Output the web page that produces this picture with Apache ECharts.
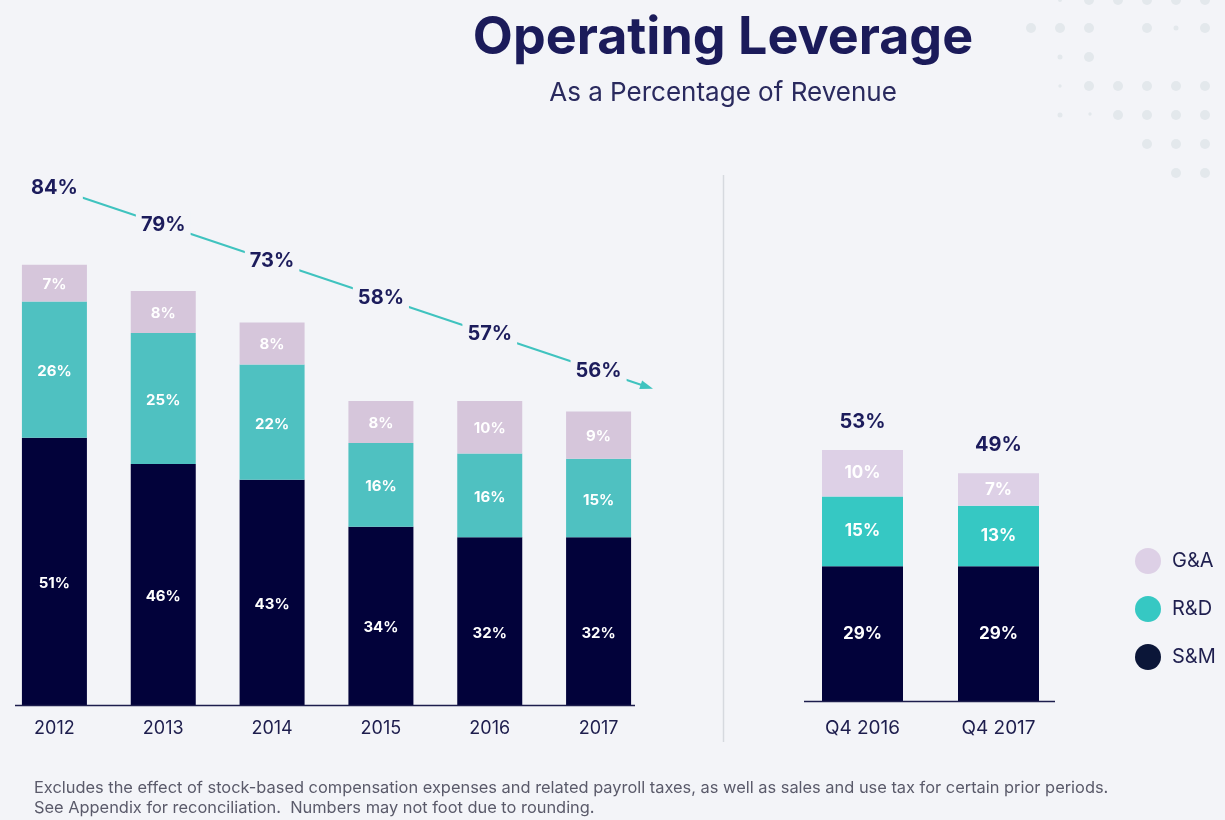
<!DOCTYPE html>
<html>
<head>
<meta charset="utf-8">
<script src="https://cdn.jsdelivr.net/npm/echarts@6/dist/echarts.min.js"></script>
<style>
html,body{margin:0;padding:0;background:#f3f4f8;}
#chart{width:1225px;height:820px;}
</style>
</head>
<body>
<div id="chart"></div>
<script>
// ---- data ----
const years = ['2012', '2013', '2014', '2015', '2016', '2017'];
const smAnnual = [51, 46, 43, 34, 32, 32];
const rdAnnual = [26, 25, 22, 16, 16, 15];
const gaAnnual = [7, 8, 8, 8, 10, 9];
const totalAnnual = [84, 79, 73, 58, 57, 56];

const quarters = ['Q4 2016', 'Q4 2017'];
const smQuarter = [29, 29];
const rdQuarter = [15, 13];
const gaQuarter = [10, 7];
const totalQuarter = [53, 49];

// ---- styles ----
const NAVY = '#1c1c5c';
const BG = '#f3f4f8';
const FONT = 'Inter';

const chart = echarts.init(document.getElementById('chart'));

function segLabel(size, dy) {
  return {
    show: true, position: 'inside', color: '#ffffff',
    fontWeight: 'bold', fontSize: size, fontFamily: FONT,
    offset: [0, dy || 0],
    formatter: p => p.value + '%'
  };
}

// decorative dots (top-right)
const dots = [
  [1060,0,2],[1089,0,5],[1118,0,5],[1147,0,5],[1176,0,5],[1205,0,5],
  [1031,28,5],[1060,28,5],[1089,28,5],[1147,28,5],[1176,28,2.5],[1205,28,5],
  [1060,57,2.5],[1089,57,5],
  [1060,86,1.7],[1089,86,5],[1118,86,5],[1147,86,5],[1176,86,5],[1205,86,5],
  [1060,115,2.5],[1090,114,1.7],[1118,115,5],[1147,115,5],[1176,115,5],[1205,115,5],
  [1147,144,5],[1176,144,5],[1205,144,5],
  [1176,173,5],[1205,173,5]
];

// trend arrow geometry (layout)
const ARROW_Y0 = 188, ARROW_X0 = 53.5, ARROW_SLOPE = 0.335, ARROW_TIP_X = 653;
function arrowY(x) { return ARROW_Y0 + (x - ARROW_X0) * ARROW_SLOPE; }

const option = {
  backgroundColor: BG,
  textStyle: { fontFamily: FONT },
  animation: false,
  title: [
    { text: 'Operating Leverage', left: 718, top: 7, textAlign: 'center',
      textStyle: { fontSize: 52, fontWeight: 'bold', color: '#1b1b5a', fontFamily: FONT } },
    { text: 'As a Percentage of Revenue', left: 718, top: 75, textAlign: 'center',
      textStyle: { fontSize: 26, fontWeight: 'normal', color: '#2a2a5e', fontFamily: FONT } },
    { text: 'Excludes the effect of stock-based compensation expenses and related payroll taxes, as well as sales and use tax for certain prior periods.\nSee Appendix for reconciliation.  Numbers may not foot due to rounding.',
      left: 29, top: 773,
      textStyle: { fontSize: 16.4, fontWeight: 'normal', color: '#5a5a6a', lineHeight: 20, fontFamily: FONT } }
  ],
  legend: {
    orient: 'vertical', left: 1130, top: 543,
    icon: 'circle', itemWidth: 26, itemHeight: 26, itemGap: 22,
    selectedMode: false,
    textStyle: { fontSize: 20, color: '#1f1f4f', fontFamily: FONT, padding: [0, 0, 0, 6] },
    data: [
      { name: 'G&A', itemStyle: { color: '#ddd0e6' } },
      { name: 'R&D', itemStyle: { color: '#36c8c3' } },
      { name: 'S&M', itemStyle: { color: '#0b1638' } }
    ]
  },
  grid: [
    { left: -1, width: 654, top: 181, height: 524 },
    { left: 794.5, width: 272, top: 236, height: 465 }
  ],
  xAxis: [
    { type: 'category', gridIndex: 0, data: years,
      axisLine: { show: false }, axisTick: { show: false },
      axisLabel: { fontSize: 18, color: '#1d1d4d', margin: 15, fontFamily: FONT } },
    { type: 'category', gridIndex: 1, data: quarters,
      axisLine: { show: false }, axisTick: { show: false },
      axisLabel: { fontSize: 19, color: '#1d1d4d', margin: 18, fontFamily: FONT } }
  ],
  yAxis: [
    { type: 'value', gridIndex: 0, min: 0, max: 100, show: false, splitLine: { show: false } },
    { type: 'value', gridIndex: 1, min: 0, max: 100, show: false, splitLine: { show: false } }
  ],
  series: [
    { name: 'S&M', type: 'bar', stack: 'annual', xAxisIndex: 0, yAxisIndex: 0, barWidth: 65,
      data: smAnnual, itemStyle: { color: '#02023a' }, label: segLabel(15, 12) },
    { name: 'R&D', type: 'bar', stack: 'annual', xAxisIndex: 0, yAxisIndex: 0, barWidth: 65,
      data: rdAnnual, itemStyle: { color: '#4fc1c1' }, label: segLabel(15, 2) },
    { name: 'G&A', type: 'bar', stack: 'annual', xAxisIndex: 0, yAxisIndex: 0, barWidth: 65,
      data: gaAnnual, itemStyle: { color: '#d6c6db' }, label: segLabel(15, 1) },

    { name: 'S&M', type: 'bar', stack: 'quarter', xAxisIndex: 1, yAxisIndex: 1, barWidth: 81,
      data: smQuarter, itemStyle: { color: '#02023a' }, label: segLabel(17) },
    { name: 'R&D', type: 'bar', stack: 'quarter', xAxisIndex: 1, yAxisIndex: 1, barWidth: 81,
      data: rdQuarter, itemStyle: { color: '#36c8c3' }, label: segLabel(17) },
    { name: 'G&A', type: 'bar', stack: 'quarter', xAxisIndex: 1, yAxisIndex: 1, barWidth: 81,
      data: gaQuarter, itemStyle: { color: '#ddd0e6' }, label: segLabel(17) },
    // quarter totals above bars
    { name: 'qtotal', type: 'bar', stack: 'quarter', xAxisIndex: 1, yAxisIndex: 1, barWidth: 81,
      data: totalQuarter.map(() => 0), itemStyle: { color: 'transparent' }, silent: true,
      label: { show: true, position: 'top', distance: 18, color: NAVY, fontWeight: 'bold',
               fontSize: 20, fontFamily: FONT,
               formatter: p => totalQuarter[p.dataIndex] + '%' } },
    // annual totals along the trend arrow
    { name: 'trend', type: 'custom', xAxisIndex: 0, yAxisIndex: 0,
      data: totalAnnual.map((v, i) => [i, v]),
      encode: { x: 0, y: 1 }, silent: true, clip: false, z: 5,
      renderItem: function (params, api) {
        const i = params.dataIndex;
        const x = api.coord([i, 0])[0];
        const y = arrowY(x);
        const children = [];
        if (i === 0) {
          const tipY = arrowY(ARROW_TIP_X);
          const ang = Math.atan(ARROW_SLOPE);
          const L = 13, W = 4.5;
          const bx = ARROW_TIP_X - L * Math.cos(ang), by = tipY - L * Math.sin(ang);
          children.push({ type: 'line', z2: 1,
            shape: { x1: x, y1: y, x2: bx + 1, y2: by + 0.3 },
            style: { stroke: '#3fc3bf', lineWidth: 2 } });
          children.push({ type: 'polygon', z2: 1,
            shape: { points: [[ARROW_TIP_X, tipY],
              [bx + W * Math.sin(ang), by - W * Math.cos(ang)],
              [bx - W * Math.sin(ang), by + W * Math.cos(ang)]] },
            style: { fill: '#3fc3bf' } });
        }
        children.push({ type: 'text', z2: 10,
          style: { text: api.value(1) + '%', x: x, y: y, align: 'center', verticalAlign: 'middle',
                   font: 'bold 20px ' + FONT, fill: NAVY,
                   backgroundColor: BG, padding: [3, 5] } });
        return { type: 'group', children: children };
      }
    }
  ],
  graphic: [
    { type: 'line', shape: { x1: 15, y1: 705.5, x2: 635, y2: 705.5 },
      style: { stroke: '#1d1d4d', lineWidth: 1.5 }, z: 10 },
    { type: 'line', shape: { x1: 804, y1: 701.5, x2: 1055, y2: 701.5 },
      style: { stroke: '#1d1d4d', lineWidth: 1.5 }, z: 10 },
    { type: 'line', shape: { x1: 723.5, y1: 175, x2: 723.5, y2: 742 },
      style: { stroke: '#d6d9df', lineWidth: 1.5 }, z: 0 }
  ].concat(dots.map(d => ({ type: 'circle', shape: { cx: d[0], cy: d[1], r: d[2] },
      style: { fill: '#e3e8ec' }, z: -1, silent: true })))
};

chart.setOption(option);
</script>
</body>
</html>
